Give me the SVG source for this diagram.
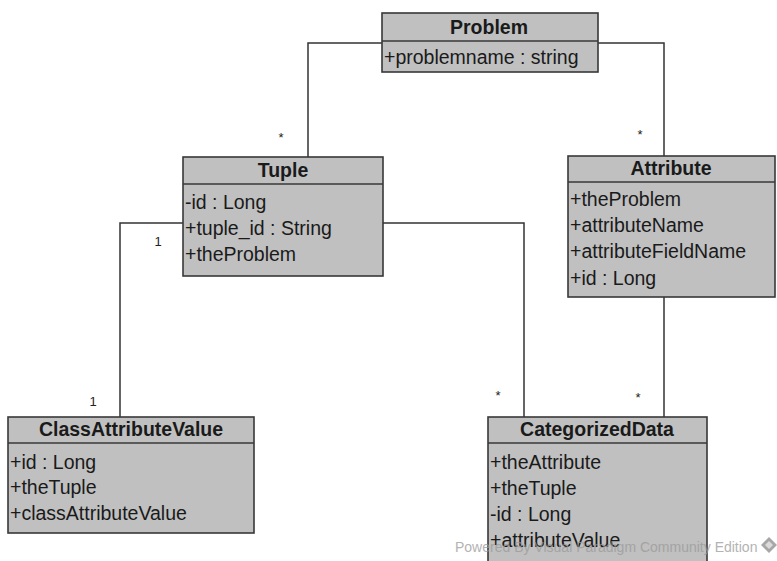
<svg xmlns="http://www.w3.org/2000/svg" width="777" height="561" viewBox="0 0 777 561">
<style>
.box{fill:#c0c0c0;stroke:#383838;stroke-width:1.6}
.div{stroke:#383838;stroke-width:1.6}
.hd{font-family:"Liberation Sans",Arial,sans-serif;font-size:19.5px;font-weight:bold;fill:#1a1a1a;text-anchor:middle}
.at{font-family:"Liberation Sans",Arial,sans-serif;font-size:19.5px;fill:#1a1a1a}
.ln{fill:none;stroke:#333;stroke-width:1.5}
.m{font-family:"Liberation Sans",Arial,sans-serif;font-size:13px;fill:#222;text-anchor:middle}
.wm{font-family:"Liberation Sans",Arial,sans-serif;font-size:14px;fill:#9a9a9a}
</style>
<rect width="777" height="561" fill="#fff"/>
<g id="connectors">
<polyline class="ln" points="382,43 308,43 308,157"/>
<polyline class="ln" points="598,43 664,43 664,156"/>
<polyline class="ln" points="183,223 120,223 120,417"/>
<polyline class="ln" points="383,223 524,223 524,417"/>
<polyline class="ln" points="664,297 664,417"/>
<text class="m" x="281" y="142">*</text>
<text class="m" x="640" y="139">*</text>
<text class="m" x="158" y="246">1</text>
<text class="m" x="93" y="406">1</text>
<text class="m" x="498" y="400">*</text>
<text class="m" x="638" y="402">*</text>
</g>
<g id="Problem">
<rect class="box" x="382" y="13" width="216" height="59"/>
<line class="div" x1="382" y1="41" x2="598" y2="41"/>
<text class="hd" x="489" y="34">Problem</text>
<text class="at" x="384" y="64">+problemname : string</text>
</g>
<g id="Tuple">
<rect class="box" x="183" y="157" width="200" height="119"/>
<line class="div" x1="183" y1="184" x2="383" y2="184"/>
<text class="hd" x="283" y="177">Tuple</text>
<text class="at" x="185" y="209">-id : Long</text>
<text class="at" x="185" y="235">+tuple_id : String</text>
<text class="at" x="185" y="261">+theProblem</text>
</g>
<g id="Attribute">
<rect class="box" x="568" y="156" width="207" height="141"/>
<line class="div" x1="568" y1="182" x2="775" y2="182"/>
<text class="hd" x="671" y="175">Attribute</text>
<text class="at" x="570" y="206">+theProblem</text>
<text class="at" x="570" y="232">+attributeName</text>
<text class="at" x="570" y="258">+attributeFieldName</text>
<text class="at" x="570" y="285">+id : Long</text>
</g>
<g id="ClassAttributeValue">
<rect class="box" x="8" y="417" width="246" height="116"/>
<line class="div" x1="8" y1="443" x2="254" y2="443"/>
<text class="hd" x="131" y="436">ClassAttributeValue</text>
<text class="at" x="10" y="469">+id : Long</text>
<text class="at" x="10" y="494">+theTuple</text>
<text class="at" x="10" y="520">+classAttributeValue</text>
</g>
<g id="CategorizedData">
<rect class="box" x="488" y="417" width="219" height="160"/>
<line class="div" x1="488" y1="443" x2="707" y2="443"/>
<text class="hd" x="597" y="436">CategorizedData</text>
<text class="at" x="490" y="469">+theAttribute</text>
<text class="at" x="490" y="495">+theTuple</text>
<text class="at" x="490" y="521">-id : Long</text>
<text class="at" x="490" y="547">+attributeValue</text>
</g>
<g id="watermark" opacity="0.75">
<text class="wm" x="455" y="552">Powered By Visual Paradigm Community Edition</text>
<path d="M769,537 L777,545 L769,553 L761,545 Z" fill="#8a8a8a"/>
<path d="M769,541 L773,545 L769,549 L765,545 Z" fill="#d0d0d0"/>
</g>
</svg>
